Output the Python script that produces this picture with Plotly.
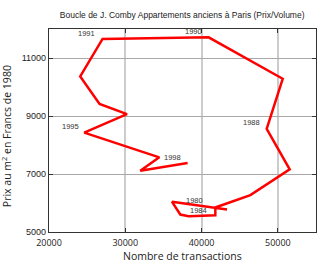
import plotly.graph_objects as go

years = list(range(1980, 1999))
transactions = [43340, 36125, 37214, 38302, 41805, 41805, 46397, 51554, 48536, 50635,
                40926, 27019, 24093, 26626, 30220, 24618, 34458, 31965, 38171]
prices = [5775, 6040, 5602, 5544, 5578, 5845, 6270, 7159, 8554, 10284,
          11713, 11657, 10363, 9419, 9062, 8426, 7575, 7111, 7377]

label_years = ["1991", "1990", "1988", "1995", "1998", "1980", "1984"]
label_x = [24972, 38958, 46489, 22781, 36124, 39090, 39614]
label_y = [11858, 11900, 8772, 8623, 7575, 6073, 5751]

x_ticks = [20000, 30000, 40000, 50000]
y_ticks = [5000, 7000, 9000, 11000]

fig = go.Figure()
fig.add_trace(go.Scatter(x=transactions, y=prices, mode="lines",
                         line=dict(color="#ff0000", width=2.5),
                         text=[str(y) for y in years], hoverinfo="text+x+y",
                         showlegend=False))

for t, x, y in zip(label_years, label_x, label_y):
    fig.add_annotation(x=x, y=y, xref="x", yref="y", text=t, showarrow=False,
                       font=dict(family="Liberation Sans", size=7.5, color="#333333"))

fig.add_annotation(x=0.5, y=-0.12, xref="paper", yref="paper", text="Nombre de transactions",
                   showarrow=False, yanchor="middle",
                   font=dict(family="Open Sans", size=10.5, color="#222222"))
fig.add_annotation(x=-0.159, y=0.47, xref="paper", yref="paper",
                   text="Prix au m<sup>2</sup> en Francs de 1980", textangle=-90,
                   showarrow=False, xanchor="center", yanchor="middle",
                   font=dict(family="Open Sans", size=10.5, color="#222222"))

fig.update_layout(
    width=330, height=264,
    margin=dict(l=49, r=14, t=29, b=32),
    paper_bgcolor="white", plot_bgcolor="white",
    title=dict(text="Boucle de J. Comby Appartements anciens à Paris (Prix/Volume)",
               x=0.552, xanchor="center", y=1 - 14.7 / 264, yanchor="middle",
               font=dict(family="Liberation Sans", size=8.5, color="#222222")),
    xaxis=dict(range=[20000, 55000], tickvals=x_ticks, ticktext=[str(v) for v in x_ticks],
               showgrid=True, gridcolor="#cccccc", gridwidth=1.5,
               showline=True, linecolor="#333333", linewidth=1.3, mirror="ticks",
               ticks="inside", ticklen=4, tickcolor="#333333", ticklabelstandoff=2,
               tickfont=dict(family="Open Sans", size=9, color="#222222"),
               zeroline=False),
    yaxis=dict(range=[5000, 12000], tickvals=y_ticks, ticktext=[str(v) for v in y_ticks],
               showgrid=True, gridcolor="#a8a8a8", gridwidth=1,
               showline=True, linecolor="#333333", linewidth=1.3, mirror="ticks",
               ticks="inside", ticklen=4, tickcolor="#333333",
               tickfont=dict(family="Liberation Sans", size=9, color="#222222"),
               zeroline=False),
)

fig.write_html("out.html")
